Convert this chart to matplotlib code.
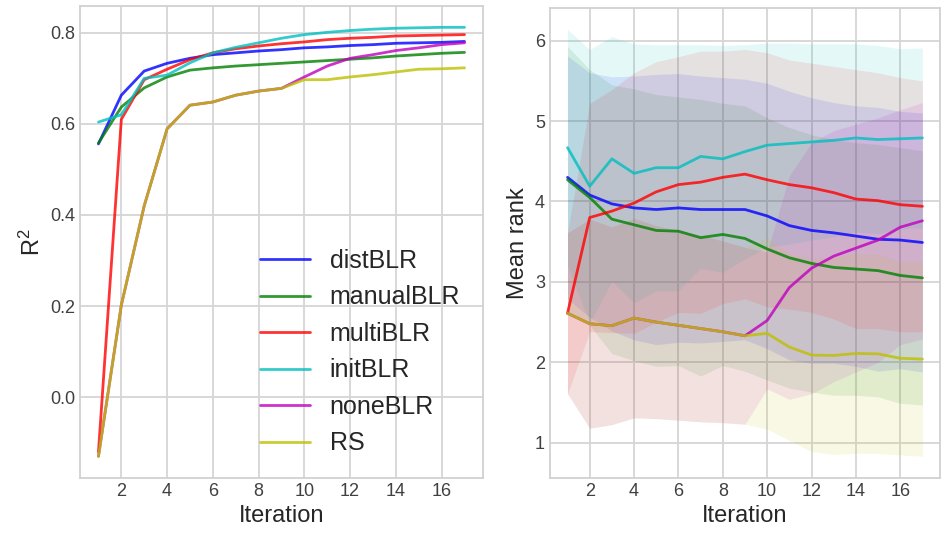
import numpy as np
import matplotlib
matplotlib.use("Agg")
import matplotlib.pyplot as plt

# -----------------------------------
# DATA
# -----------------------------------

iterations = list(range(1, 18))
labels = ["distBLR", "manualBLR", "multiBLR", "initBLR", "noneBLR", "RS"]
colors = ["b", "g", "r", "c", "m", "y"]

# R^2 per iteration
r2_dist = [0.556, 0.663, 0.716, 0.733, 0.744, 0.752, 0.756, 0.760, 0.763,
           0.767, 0.769, 0.772, 0.774, 0.777, 0.778, 0.779, 0.781]
r2_manual = [0.558, 0.637, 0.679, 0.703, 0.718, 0.723, 0.727, 0.730, 0.733,
             0.736, 0.739, 0.742, 0.745, 0.749, 0.752, 0.755, 0.757]
r2_multi = [-0.12, 0.610, 0.697, 0.720, 0.741, 0.756, 0.765, 0.771, 0.776,
            0.780, 0.785, 0.788, 0.790, 0.793, 0.794, 0.795, 0.796]
r2_init = [0.604, 0.620, 0.700, 0.707, 0.734, 0.756, 0.768, 0.778, 0.788,
           0.796, 0.801, 0.805, 0.808, 0.810, 0.811, 0.812, 0.812]
r2_none = [-0.13, 0.202, 0.420, 0.589, 0.641, 0.648, 0.663, 0.672, 0.678,
           0.703, 0.727, 0.744, 0.752, 0.761, 0.767, 0.774, 0.778]
r2_rs = [-0.13, 0.202, 0.420, 0.589, 0.641, 0.648, 0.663, 0.672, 0.678,
         0.697, 0.697, 0.703, 0.708, 0.714, 0.720, 0.721, 0.723]

# mean rank per iteration
rank_dist = [4.30, 4.08, 3.97, 3.92, 3.90, 3.92, 3.90, 3.90, 3.90,
             3.82, 3.70, 3.64, 3.61, 3.57, 3.53, 3.52, 3.49]
rank_manual = [4.27, 4.05, 3.78, 3.71, 3.64, 3.63, 3.55, 3.59, 3.54,
               3.41, 3.30, 3.23, 3.18, 3.16, 3.14, 3.08, 3.05]
rank_multi = [2.61, 3.80, 3.88, 3.98, 4.12, 4.21, 4.24, 4.30, 4.34,
              4.27, 4.21, 4.17, 4.11, 4.03, 4.01, 3.96, 3.94]
rank_init = [4.67, 4.19, 4.53, 4.35, 4.42, 4.42, 4.56, 4.53, 4.62,
             4.70, 4.72, 4.74, 4.76, 4.79, 4.77, 4.78, 4.79]
rank_none = [2.61, 2.48, 2.455, 2.55, 2.50, 2.46, 2.42, 2.38, 2.33,
             2.52, 2.93, 3.17, 3.32, 3.42, 3.52, 3.68, 3.76]
rank_rs = [2.61, 2.48, 2.455, 2.55, 2.50, 2.46, 2.42, 2.38, 2.33,
           2.36, 2.19, 2.09, 2.085, 2.11, 2.105, 2.05, 2.04]

# std of rank per iteration
std_dist = [1.51, 1.52, 1.58, 1.64, 1.68, 1.67, 1.66, 1.64, 1.62,
            1.65, 1.67, 1.65, 1.62, 1.62, 1.64, 1.60, 1.61]
std_manual = [1.66, 1.59, 1.67, 1.69, 1.69, 1.67, 1.72, 1.63, 1.65,
              1.63, 1.62, 1.60, 1.59, 1.57, 1.57, 1.59, 1.58]
std_multi = [1.00, 1.42, 1.51, 1.62, 1.62, 1.59, 1.63, 1.57, 1.55,
             1.58, 1.55, 1.55, 1.57, 1.61, 1.59, 1.58, 1.56]
std_init = [1.47, 1.70, 1.52, 1.61, 1.53, 1.53, 1.39, 1.41, 1.33,
            1.27, 1.25, 1.22, 1.20, 1.17, 1.17, 1.12, 1.12]
std_none = [1.00, 1.30, 1.23, 1.24, 1.20, 1.18, 1.16, 1.13, 1.10,
            0.85, 1.39, 1.56, 1.56, 1.54, 1.52, 1.46, 1.47]
std_rs = [1.00, 1.30, 1.23, 1.24, 1.20, 1.18, 1.16, 1.13, 1.10,
          1.19, 1.16, 1.20, 1.23, 1.24, 1.24, 1.20, 1.21]

r2_all = [r2_dist, r2_manual, r2_multi, r2_init, r2_none, r2_rs]
rank_all = [rank_dist, rank_manual, rank_multi, rank_init, rank_none, rank_rs]
std_all = [std_dist, std_manual, std_multi, std_init, std_none, std_rs]

# -----------------------------------
# STYLE
# -----------------------------------

plt.style.use("seaborn-v0_8-whitegrid")
plt.rcParams["font.family"] = ["Liberation Sans", "DejaVu Sans"]
plt.rcParams["mathtext.default"] = "regular"
plt.rcParams["axes.edgecolor"] = ".82"
plt.rcParams["axes.linewidth"] = 1.3
plt.rcParams["grid.color"] = ".84"
plt.rcParams["grid.linewidth"] = 1.3

fig = plt.figure(figsize=(9.43, 5.35), dpi=100)
ax1 = fig.add_axes([0.085, 0.107, 0.427, 0.882])
ax2 = fig.add_axes([0.583, 0.107, 0.414, 0.878])

# -----------------------------------
# LEFT — R^2
# -----------------------------------

for vals, lab, col in zip(r2_all, labels, colors):
    ax1.plot(iterations, vals, color=col, alpha=0.8, lw=2, label=lab)

ax1.set_xlabel("Iteration", fontsize=17)
ax1.set_ylabel("$R^2$", fontsize=17)
ax1.set_xticks(range(2, 17, 2))
ax1.set_yticks([0.0, 0.2, 0.4, 0.6, 0.8])
ax1.tick_params(labelsize=13, colors=".25")
ax1.legend(loc="lower right", fontsize=18, frameon=False)

# -----------------------------------
# RIGHT — MEAN RANK
# -----------------------------------

for m, s, col in zip(rank_all, std_all, colors):
    m = np.array(m)
    s = np.array(s)
    ax2.fill_between(iterations, m - s, m + s, color=col, alpha=0.1, lw=0)

for m, lab, col in zip(rank_all, labels, colors):
    ax2.plot(iterations, m, color=col, alpha=0.8, lw=2, label=lab)

ax2.set_xlabel("Iteration", fontsize=17)
ax2.set_ylabel("Mean rank", fontsize=17)
ax2.set_xticks(range(2, 17, 2))
ax2.set_yticks([1, 2, 3, 4, 5, 6])
ax2.tick_params(labelsize=13, colors=".25")

for ax in (ax1, ax2):
    for sp in ax.spines.values():
        sp.set_visible(True)
        sp.set_color(".82")

plt.savefig("out.png", dpi=100)
plt.close()
